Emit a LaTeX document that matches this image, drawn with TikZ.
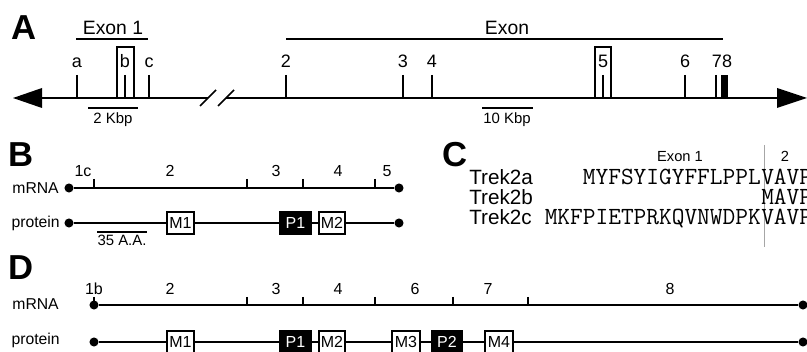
\documentclass[tikz,border=0pt]{standalone}
\usepackage{fontspec}
\setmainfont{Liberation Sans}
\begin{document}
\begin{tikzpicture}[x=0.75pt,y=-0.75pt,
  panel/.style={font=\fontsize{26}{30}\selectfont\bfseries, anchor=base west, inner sep=0pt},
  exonf/.style={font=\fontsize{14.5}{17}\selectfont, anchor=base, inner sep=0pt},
  albl/.style={font=\fontsize{13.5}{16}\selectfont, anchor=base, inner sep=0pt},
  scalef/.style={font=\fontsize{11.2}{13}\selectfont, anchor=base, inner sep=0pt},
  nlbl/.style={font=\fontsize{12}{14}\selectfont, anchor=base, inner sep=0pt},
  rowlbl/.style={font=\fontsize{11.8}{14}\selectfont, anchor=east, inner sep=0pt},
  treklbl/.style={font=\fontsize{15.5}{18}\selectfont, anchor=base west, inner sep=0pt},
  seq/.style={font=\fontsize{18.5}{20}\selectfont\ttfamily, inner sep=0pt, text height=10pt, text depth=0pt},
  mainline/.style={line width=1.7pt},
  bar/.style={line width=1.8pt},
  sbar/.style={line width=1.5pt},
  tickA/.style={line width=1.4pt},
  boxline/.style={line width=1.1pt},
  rna/.style={line width=1.4pt},
  tickB/.style={line width=1.2pt},
  dot/.style={circle, fill=black, inner sep=0pt, minimum size=6.8pt},
  mbox/.style={draw, line width=1.1pt, fill=white, minimum height=16.5pt, inner sep=0pt, font=\fontsize{12}{14}\selectfont},
  pbox/.style={draw, line width=1.1pt, fill=black, text=white, minimum height=16.5pt, inner sep=0pt, font=\fontsize{12}{14}\selectfont},
]
\useasboundingbox (0,0) rectangle (807,352);

% ---------------- Panel A ----------------
\node[panel] (labA) at (11,40) {A};
\node[exonf] (exon1) at (113,35) {Exon 1};
\draw[bar] (76,39) -- (148,39);
\node[exonf] (exon) at (507,35) {Exon};
\draw[bar] (286,39) -- (723,39);

\fill (13,98) -- (42,88) -- (42,108) -- cycle;
\fill (807,98) -- (777,88) -- (777,108) -- cycle;
\draw[mainline] (42,98) -- (208,98);
\draw[mainline] (226,98) -- (777,98);
\draw[line width=1.3pt] (200,106) -- (216,90);
\draw[line width=1.3pt] (218,106) -- (234,90);

\foreach \x in {77,125,149,286,403,432,603,685,716}
  \draw[tickA] (\x,75) -- (\x,98);
\fill (721,75) rectangle (728,98);
\draw[boxline] (117,98) -- (117,47) -- (134,47) -- (134,98);
\draw[boxline] (595,98) -- (595,47) -- (611,47) -- (611,98);

\node[albl] (la) at (77,68) {a};
\node[albl] (lb) at (125,68) {b};
\node[albl] (lc) at (149,68) {c};
\node[albl] (l2) at (286,68) {2};
\node[albl] (l3) at (403,68) {3};
\node[albl] (l4) at (432,68) {4};
\node[albl] (l5) at (603,68) {5};
\node[albl] (l6) at (685,68) {6};
\node[albl] (l78) at (722,68) {78};

\draw[sbar] (88,108) -- (138,108);
\node[scalef] (kb2) at (113,124) {2 Kbp};
\draw[sbar] (482,108) -- (533,108);
\node[scalef] (kb10) at (507,124) {10 Kbp};

% ---------------- Panel B ----------------
\node[panel] (labB) at (8,167) {B};
\node[rowlbl] (bmrna) at (59,188) {mRNA};
\node[dot] (bmL) at (69,188) {};
\node[dot] (bmR) at (399,188) {};
\draw[rna] (bmL) -- (bmR);
\foreach \x in {94,247,303,375}
  \draw[tickB] (\x,179) -- (\x,188);
\node[nlbl] at (83,177) {1c};
\node[nlbl] at (170,177) {2};
\node[nlbl] at (276,177) {3};
\node[nlbl] at (338,177) {4};
\node[nlbl] at (387,177) {5};

\node[rowlbl] (bprot) at (60,223) {protein};
\node[dot] (bpL) at (69,223) {};
\node[dot] (bpR) at (399,223) {};
\node[mbox, minimum width=20pt] (bM1) at (180.5,223) {M1};
\node[pbox, minimum width=23pt] (bP1) at (295.5,223) {P1};
\node[mbox, minimum width=19.5pt] (bM2) at (332,223) {M2};
\draw[rna] (bpL) -- (bM1) -- (bP1) -- (bM2) -- (bpR);
\draw[sbar] (97,232) -- (147,232);
\node[scalef] (aa) at (122,246) {35 A.A.};

% ---------------- Panel C ----------------
\node[panel] (labC) at (442,167) {C};
\node[font=\fontsize{11}{13}\selectfont, anchor=base, inner sep=0pt] (cex) at (680,162) {Exon 1};
\node[font=\fontsize{11}{13}\selectfont, anchor=base, inner sep=0pt] (c2) at (785,162) {2};
\draw[gray!70, line width=0.7pt] (764,145) -- (764,247);
\node[treklbl] (ta) at (469,185) {Trek2a};
\node[treklbl] (tb) at (469,205) {Trek2b};
\node[treklbl] (tc) at (469,225) {Trek2c};
\node[seq, anchor=base east] (sa1) at (761,185) {MYFSYIGYFFLPPL};
\node[seq, anchor=base west] (sa2) at (761,185) {VAVP};
\node[seq, anchor=base west] (sb2) at (761,205) {MAVP};
\node[seq, anchor=base east] (sc1) at (761,225) {MKFPIETPRKQVNWDPK};
\node[seq, anchor=base west] (sc2) at (761,225) {VAVP};

% ---------------- Panel D ----------------
\node[panel] (labD) at (8,280) {D};
\node[rowlbl] (dmrna) at (59,304) {mRNA};
\node[dot] (dmL) at (94,305) {};
\node[dot] (dmR) at (803,305) {};
\draw[rna] (dmL) -- (dmR);
\foreach \x in {94,247,303,375,453,528}
  \draw[tickB] (\x,297) -- (\x,305);
\node[nlbl] at (94,295) {1b};
\node[nlbl] at (170,295) {2};
\node[nlbl] at (276,295) {3};
\node[nlbl] at (338,295) {4};
\node[nlbl] at (415,295) {6};
\node[nlbl] at (488,295) {7};
\node[nlbl] at (670,295) {8};

\node[rowlbl] (dprot) at (60,340) {protein};
\node[dot] (dpL) at (94,342) {};
\node[dot] (dpR) at (803,342) {};
\node[mbox, minimum width=20pt] (dM1) at (180.5,342) {M1};
\node[pbox, minimum width=23pt] (dP1) at (295.5,342) {P1};
\node[mbox, minimum width=19.5pt] (dM2) at (332,342) {M2};
\node[mbox, minimum width=21pt] (dM3) at (406,342) {M3};
\node[pbox, minimum width=22.5pt] (dP2) at (447,342) {P2};
\node[mbox, minimum width=21pt] (dM4) at (499,342) {M4};
\draw[rna] (dpL) -- (dM1) -- (dP1) -- (dM2) -- (dM3) -- (dP2) -- (dM4) -- (dpR);
\end{tikzpicture}
\end{document}
